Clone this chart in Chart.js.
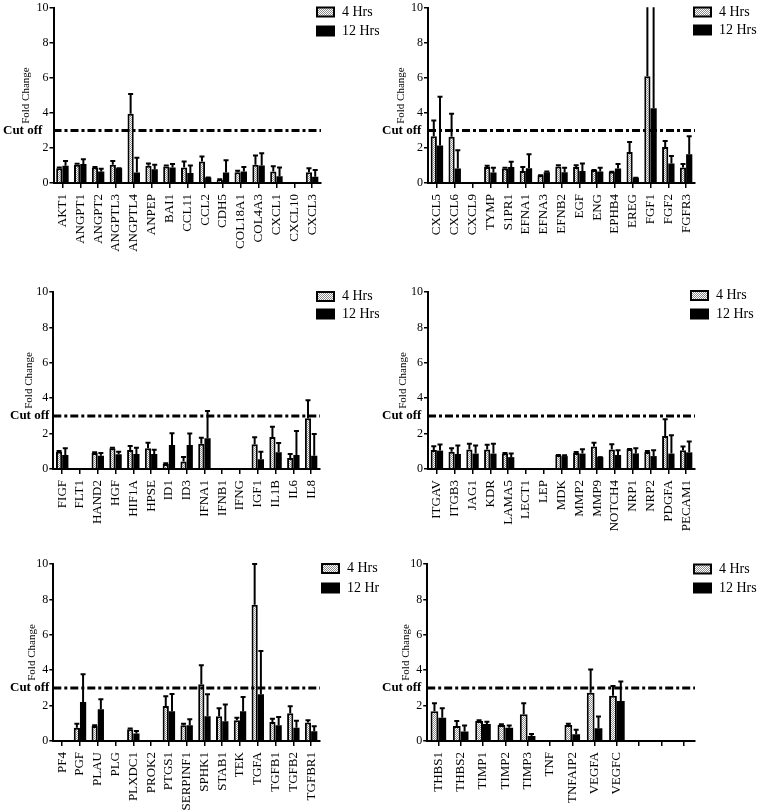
<!DOCTYPE html>
<html>
<head>
<meta charset="utf-8">
<script src="https://cdn.jsdelivr.net/npm/chart.js@4/dist/chart.umd.min.js"></script>
<style>
  body { margin: 0; background: #fff; width: 759px; height: 810px; position: relative; overflow: hidden; }
  canvas { position: absolute; }
</style>
</head>
<body>
<canvas id="c1" width="379" height="280" style="left:0;top:0"></canvas>
<canvas id="c2" width="380" height="280" style="left:379px;top:0"></canvas>
<canvas id="c3" width="379" height="270" style="left:0;top:280px"></canvas>
<canvas id="c4" width="380" height="270" style="left:379px;top:280px"></canvas>
<canvas id="c5" width="379" height="260" style="left:0;top:550px"></canvas>
<canvas id="c6" width="380" height="260" style="left:379px;top:550px"></canvas>
<script>
// fold change values, 4 Hrs and 12 Hrs, with the top of each error bar
const yTicks = [0, 2, 4, 6, 8, 10];
const cutOff = 3;

const genes1 = ['AKT1','ANGPT1','ANGPT2','ANGPTL3','ANGPTL4','ANPEP','BAI1','CCL11','CCL2','CDH5','COL18A1','COL4A3','CXCL1','CXCL10','CXCL3'];
const h4_1   = [0.85,1.04,0.89,1.04,3.96,0.98,0.94,0.89,1.23,0.19,0.62,1.04,0.66,null,0.62];
const h4Up1  = [0.88,1.10,0.92,1.26,5.09,1.11,1.00,1.23,1.51,0.22,0.70,1.58,0.96,null,0.85];
const h12_1  = [0.98,1.08,0.66,0.85,0.60,0.79,0.89,0.57,0.32,0.60,0.66,1.00,0.38,null,0.36];
const h12Up1 = [1.26,1.36,0.81,0.85,1.45,1.04,1.09,1.00,0.32,1.30,0.92,1.70,0.89,null,0.75];

const genes2 = ['CXCL5','CXCL6','CXCL9','TYMP','S1PR1','EFNA1','EFNA3','EFNB2','EGF','ENG','EPHB4','EREG','FGF1','FGF2','FGFR3'];
const h4_2   = [2.68,2.64,null,0.92,0.83,0.68,0.45,0.94,0.92,0.74,0.64,1.77,6.10,2.06,0.89];
const h4Up2  = [3.58,3.96,null,0.98,0.87,0.92,0.45,1.02,1.02,0.75,0.64,2.34,11,2.40,1.08];
const h12_2  = [2.15,0.83,null,0.60,0.91,0.85,0.62,0.62,0.68,0.66,0.83,0.30,4.28,1.11,1.64];
const h12Up2 = [4.94,1.87,null,0.87,1.21,1.64,0.66,0.87,1.11,0.87,1.08,0.30,11,1.55,2.68];

const genes3 = ['FIGF','FLT1','HAND2','HGF','HIF1A','HPSE','ID1','ID3','IFNA1','IFNB1','IFNG','IGF1','IL1B','IL6','IL8'];
const h4_3   = [0.98,null,0.91,1.17,1.08,1.17,0.28,0.42,1.43,null,null,1.40,1.81,0.62,2.87];
const h4Up3  = [1.02,null,0.94,1.20,1.30,1.49,0.32,0.68,1.77,null,null,1.79,2.38,0.85,3.89];
const h12_3  = [0.79,null,0.75,0.83,0.85,0.85,1.36,1.36,1.74,null,null,0.55,0.94,0.79,0.75];
const h12Up3 = [1.17,null,0.91,0.98,1.20,1.09,2.02,2.00,3.28,null,null,0.98,1.47,2.15,1.98];

const genes4 = ['ITGAV','ITGB3','JAG1','KDR','LAMA5','LECT1','LEP','MDK','MMP2','MMP9','NOTCH4','NRP1','NRP2','PDGFA','PECAM1'];
const h4_4   = [1.08,0.98,1.10,1.10,0.87,null,null,0.79,0.90,1.27,1.10,1.13,0.96,1.87,1.06];
const h4Up4  = [1.29,1.17,1.42,1.37,0.90,null,null,0.79,0.96,1.48,1.40,1.13,1.02,2.81,1.27];
const h12_4  = [1.04,0.85,0.87,0.87,0.67,null,null,0.73,0.87,0.67,0.79,0.88,0.73,0.87,0.94];
const h12Up4 = [1.38,1.33,1.33,1.42,0.87,null,null,0.77,1.12,0.67,1.06,1.17,1.06,1.90,1.56];

const genes5 = ['PF4','PGF','PLAU','PLG','PLXDC1','PROK2','PTGS1','SERPINF1','SPHK1','STAB1','TEK','TGFA','TGFB1','TGFB2','TGFBR1'];
const h4_5   = [null,0.75,0.85,null,0.66,null,1.98,0.89,3.21,1.40,1.17,7.70,1.08,1.57,1.04];
const h4Up5  = [null,0.98,0.89,null,0.70,null,2.53,0.98,4.28,1.85,1.32,10,1.26,1.96,1.17];
const h12_5  = [null,2.21,1.79,null,0.42,null,1.68,0.89,1.40,1.11,1.68,2.64,0.89,0.75,0.55];
const h12Up5 = [null,3.77,2.36,null,0.57,null,2.66,1.23,2.64,2.06,2.49,5.08,1.36,1.15,0.83];

const genes6 = ['THBS1','THBS2','TIMP1','TIMP2','TIMP3','TNF','TNFAIP2','VEGFA','VEGFC','','',''];
const h4_6   = [1.68,0.85,1.13,0.91,1.51,null,0.91,2.72,2.55,null,null,null];
const h4Up6  = [2.13,1.13,1.17,0.94,2.13,null,0.98,4.04,3.11,null,null,null];
const h12_6  = [1.32,0.53,0.96,0.75,0.28,null,0.38,0.72,2.26,null,null,null];
const h12Up6 = [1.85,0.87,1.09,0.87,0.40,null,0.64,1.38,3.36,null,null,null];

// where each panel sits inside its canvas
const panels = [
  { id: 'c1', labels: genes1, h4: h4_1, h4Up: h4Up1, h12: h12_1, h12Up: h12Up1, axisW: 53.5, right: 321, top: 7,  bottom: 183, titlePad: 20, cutX: 3,  legX: 317, legY: [12, 31] },
  { id: 'c2', labels: genes2, h4: h4_2, h4Up: h4Up2, h12: h12_2, h12Up: h12Up2, axisW: 49,   right: 316, top: 7,  bottom: 183, titlePad: 16, cutX: 3,  legX: 315, legY: [12, 30] },
  { id: 'c3', labels: genes3, h4: h4_3, h4Up: h4Up3, h12: h12_3, h12Up: h12Up3, axisW: 53.3, right: 320, top: 12, bottom: 189, titlePad: 23, cutX: 10, legX: 317, legY: [16.5, 34] },
  { id: 'c4', labels: genes4, h4: h4_4, h4Up: h4Up4, h12: h12_4, h12Up: h12Up4, axisW: 49,   right: 316, top: 12, bottom: 189, titlePad: 18, cutX: 3,  legX: 312, legY: [15.5, 34] },
  { id: 'c5', labels: genes5, h4: h4_5, h4Up: h4Up5, h12: h12_5, h12Up: h12Up5, axisW: 53.3, right: 320, top: 14, bottom: 191, titlePad: 26, cutX: 10, legX: 322, legY: [18.5, 38] },
  { id: 'c6', labels: genes6, h4: h4_6, h4Up: h4Up6, h12: h12_6, h12Up: h12Up6, axisW: 48.2, right: 316, top: 14, bottom: 191, titlePad: 21, cutX: 3,  legX: 315, legY: [19, 38] }
];

Chart.defaults.font.family = "'Liberation Serif', 'Times New Roman', serif";
Chart.defaults.color = '#000';

// dotted grey fill used for the 4 Hrs bars
const hatch = (() => {
  const c = document.createElement('canvas');
  c.width = 4; c.height = 4;
  const g = c.getContext('2d');
  g.fillStyle = '#fff';
  g.fillRect(0, 0, 4, 4);
  g.fillStyle = '#8c8c8c';
  for (let x = 0; x < 4; x++)
    for (let y = 0; y < 4; y++)
      if ((x + y) % 2 === 0) g.fillRect(x, y, 1, 1);
  return g.createPattern(c, 'repeat');
})();

function makeChart(p) {
  const canvas = document.getElementById(p.id);
  const W = canvas.width, H = canvas.height;

  const errorBars = {
    id: 'errorBars',
    afterDatasetsDraw(chart) {
      const { ctx, chartArea, scales: { y } } = chart;
      ctx.save();
      ctx.beginPath();
      ctx.rect(chartArea.left, chartArea.top - 1, chartArea.width, chartArea.height + 1);
      ctx.clip();
      ctx.strokeStyle = '#000';
      ctx.lineWidth = 2;
      chart.data.datasets.forEach((ds, i) => {
        chart.getDatasetMeta(i).data.forEach((bar, j) => {
          if (ds.data[j] == null || ds.upper[j] == null) return;
          const yTop = y.getPixelForValue(ds.upper[j]);
          ctx.beginPath();
          ctx.moveTo(bar.x, bar.y);
          ctx.lineTo(bar.x, yTop);
          ctx.moveTo(bar.x - 2.5, yTop);
          ctx.lineTo(bar.x + 2.5, yTop);
          ctx.stroke();
        });
      });
      ctx.restore();
    }
  };

  const cutLine = {
    id: 'cutLine',
    afterDatasetsDraw(chart) {
      const { ctx, chartArea, scales: { y } } = chart;
      const yy = y.getPixelForValue(cutOff);
      ctx.save();
      ctx.strokeStyle = '#000';
      ctx.lineWidth = 3;
      ctx.setLineDash([8, 3, 3, 3]);
      ctx.beginPath();
      ctx.moveTo(chartArea.left, yy);
      ctx.lineTo(chartArea.right, yy);
      ctx.stroke();
      ctx.setLineDash([]);
      ctx.fillStyle = '#000';
      ctx.font = "bold 13px 'Liberation Serif', serif";
      ctx.textAlign = 'left';
      ctx.textBaseline = 'middle';
      ctx.fillText('Cut off', p.cutX, yy);
      ctx.restore();
    }
  };

  const legendBox = {
    id: 'legendBox',
    afterDraw(chart) {
      const ctx = chart.ctx;
      ctx.save();
      chart.data.datasets.forEach((ds, i) => {
        const cy = p.legY[i];
        ctx.fillStyle = ds.backgroundColor;
        ctx.fillRect(p.legX, cy - 4.5, 17, 9);
        ctx.strokeStyle = '#000';
        ctx.lineWidth = 2;
        ctx.strokeRect(p.legX, cy - 4.5, 17, 9);
        ctx.fillStyle = '#000';
        ctx.font = "14px 'Liberation Serif', serif";
        ctx.textAlign = 'left';
        ctx.textBaseline = 'middle';
        ctx.fillText(ds.label, p.legX + 25, cy);
      });
      ctx.restore();
    }
  };

  return new Chart(canvas, {
    type: 'bar',
    data: {
      labels: p.labels,
      datasets: [
        { label: '4 Hrs', data: p.h4, upper: p.h4Up, backgroundColor: hatch, borderColor: '#000', borderWidth: 2 },
        { label: '12 Hrs', data: p.h12, upper: p.h12Up, backgroundColor: '#000', borderColor: '#000', borderWidth: 0 }
      ]
    },
    options: {
      responsive: false,
      animation: false,
      layout: { padding: { left: 0, top: p.top, right: W - p.right, bottom: 0 } },
      datasets: { bar: { categoryPercentage: 0.7, barPercentage: 1 } },
      plugins: { legend: { display: false }, tooltip: { enabled: false } },
      scales: {
        x: {
          grid: { offset: false, drawOnChartArea: false, color: '#000', lineWidth: 1.5, tickLength: 5 },
          border: { color: '#000', width: 2 },
          ticks: { autoSkip: false, minRotation: 90, maxRotation: 90, padding: 6, font: { size: 13 } },
          afterFit: s => { s.height = H - p.bottom; }
        },
        y: {
          min: 0,
          max: 10,
          afterBuildTicks: s => { s.ticks = yTicks.map(v => ({ value: v })); },
          grid: { drawOnChartArea: false, color: '#000', lineWidth: 1.5, tickLength: 4 },
          border: { color: '#000', width: 2 },
          ticks: { padding: 1, font: { size: 12 } },
          title: { display: true, text: 'Fold Change', font: { size: 11 }, padding: { top: p.titlePad, bottom: 0 } },
          afterFit: s => { s.width = p.axisW; }
        }
      }
    },
    plugins: [errorBars, cutLine, legendBox]
  });
}

panels.forEach(makeChart);
</script>
</body>
</html>
